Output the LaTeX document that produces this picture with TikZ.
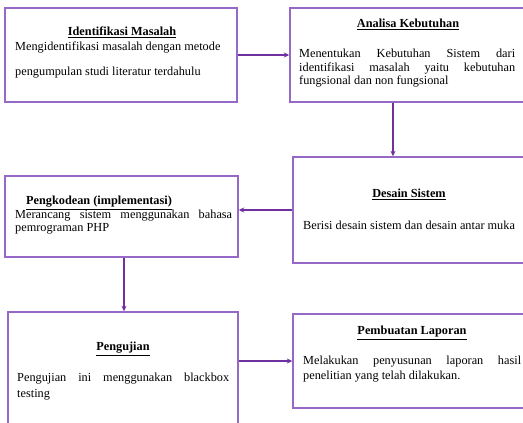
\documentclass[tikz,border=0pt]{standalone}
\usepackage{fontspec}
\setmainfont{Liberation Serif}
\usetikzlibrary{arrows.meta}
\definecolor{boxline}{RGB}{150,105,200}
\definecolor{arrline}{RGB}{112,48,160}
\begin{document}
\begin{tikzpicture}[x=1pt,y=-1pt,
  box/.style={draw=boxline,line width=1.4pt,rectangle,inner sep=0pt,fill=white},
  txt/.style={font=\fontsize{12.3}{14}\selectfont,inner sep=0pt,text height=8.6pt,text depth=2.7pt,anchor=west},
  hd/.style={txt,anchor=center,font=\fontsize{12.3}{14}\selectfont\bfseries},
  arr/.style={draw=arrline,line width=1.7pt,-{Stealth[length=5.5pt,width=5pt]}}]
\useasboundingbox (0,0) rectangle (523,423);
\clip (0,0) rectangle (523,423);
\fill[white] (0,0) rectangle (523,423);
% boxes
\node[box,minimum width=232pt,minimum height=94pt] (b1) at (121,55) {};
\node[box,minimum width=240pt,minimum height=94pt] (b2) at (410,55) {};
\node[box,minimum width=237pt,minimum height=106pt] (b3) at (411.5,210) {};
\node[box,minimum width=233pt,minimum height=81pt] (b4) at (121.5,216.5) {};
\node[box,minimum width=230pt,minimum height=118pt] (b5) at (123,371) {};
\node[box,minimum width=237pt,minimum height=94pt] (b6) at (411.5,361) {};
% box 1
\node[hd] (h1) at (122,33) {\underline{Identifikasi Masalah}};
\node[txt] (t1a) at (15,47.5) {Mengidentifikasi masalah dengan metode};
\node[txt] (t1b) at (15,73) {pengumpulan studi literatur terdahulu};
% box 2
\node[hd] (h2) at (408,25) {\underline{Analisa Kebutuhan}};
\node[txt] (t2a) at (299,55) {\makebox[216pt][s]{Menentukan Kebutuhan Sistem dari}};
\node[txt] (t2b) at (299,68.5) {\makebox[216pt][s]{identifikasi masalah yaitu kebutuhan}};
\node[txt] (t2c) at (299,82) {fungsional dan non fungsional};
% box 3
\node[hd] (h3) at (409,195) {\underline{Desain Sistem}};
\node[txt] (t3a) at (303,227) {Berisi desain sistem dan desain antar muka};
% box 4
\node[hd] (h4) at (99,202) {\underline{Pengkodean (implementasi)}};
\node[txt] (t4a) at (15,215.5) {\makebox[217pt][s]{Merancang sistem menggunakan bahasa}};
\node[txt] (t4b) at (15,229) {pemrograman PHP};
% box 5
\node[hd] (h5) at (123,348) {\underline{Pengujian}};
\node[txt] (t5a) at (17,379) {\makebox[212pt][s]{Pengujian ini menggunakan blackbox}};
\node[txt] (t5b) at (17,394.5) {testing};
% box 6
\node[hd] (h6) at (412,332) {\underline{Pembuatan Laporan}};
\node[txt] (t6a) at (303,362) {\makebox[218pt][s]{Melakukan penyusunan laporan hasil}};
\node[txt] (t6b) at (303,377) {penelitian yang telah dilakukan.};
% connectors
\coordinate (c23) at (393,0);
\coordinate (c45) at (124,0);
\draw[arr] (b1.east) -- (b2.west |- b1.east);
\draw[arr] (b2.south -| c23) -- (b3.north -| c23);
\draw[arr] (b3.west) -- (b4.east |- b3.west);
\draw[arr] (b4.south -| c45) -- (b5.north -| c45);
\draw[arr] (b5.east |- b6.west) -- (b6.west);
\end{tikzpicture}
\end{document}
